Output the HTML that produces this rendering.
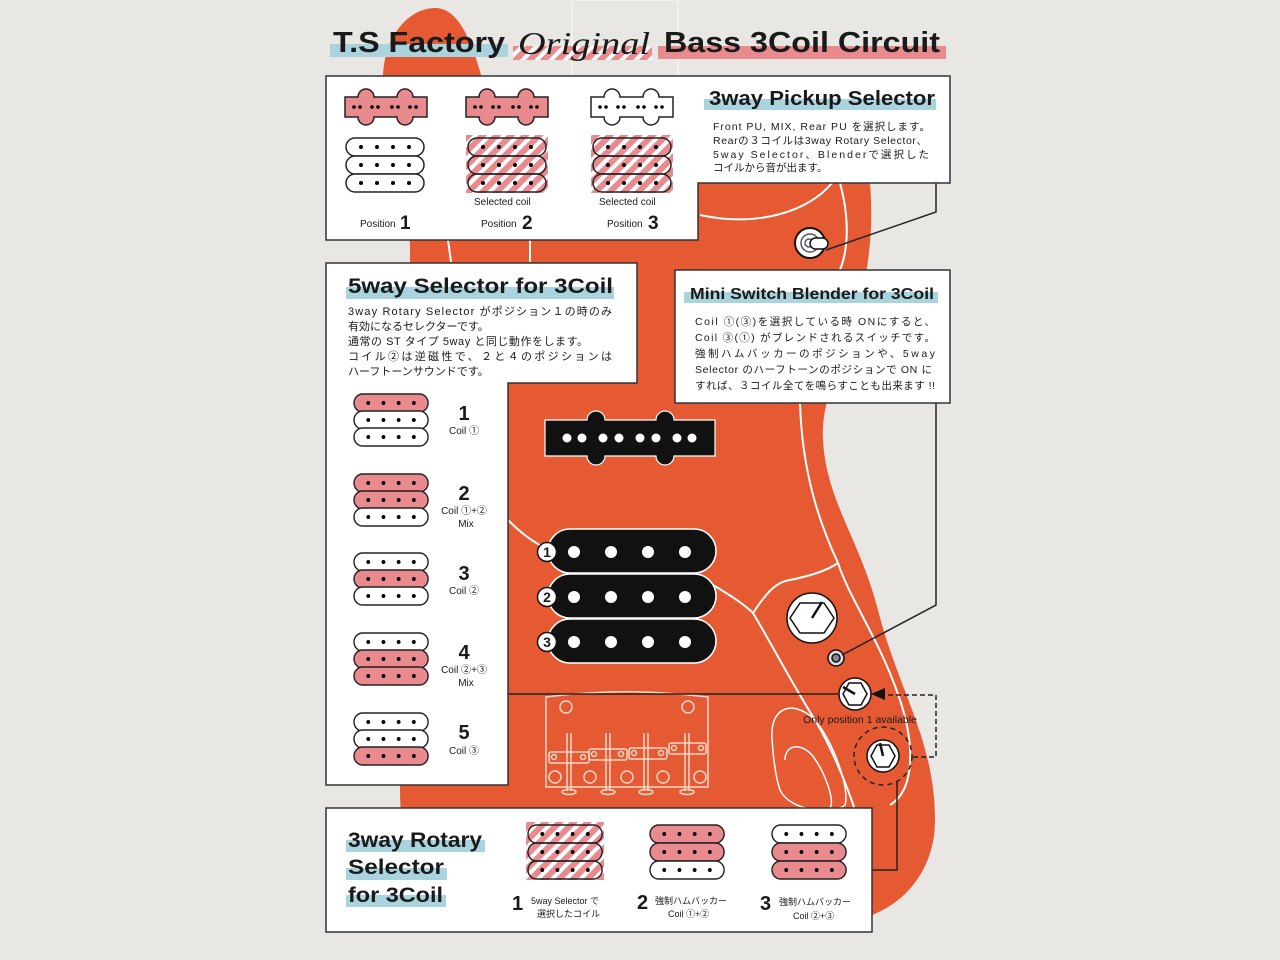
<!DOCTYPE html>
<html><head><meta charset="utf-8"><style>
html,body{margin:0;padding:0;background:#e9e7e3;}
svg{display:block}
text{font-family:"Liberation Sans","Noto Sans CJK JP",sans-serif;fill:#1a1a1a}
.b{font-weight:bold}
</style></head><body>
<svg width="1280" height="960" viewBox="0 0 1280 960" xmlns="http://www.w3.org/2000/svg">
<defs>
<pattern id="h" patternUnits="userSpaceOnUse" width="10" height="10" patternTransform="rotate(45)">
<rect width="10" height="10" fill="#e98a8f"/><rect width="4" height="10" fill="#fff"/>
</pattern>
<g id="dots4"><circle cx="15" cy="9" r="2"/><circle cx="31" cy="9" r="2"/><circle cx="47" cy="9" r="2"/><circle cx="63" cy="9" r="2"/></g>
<g id="cw"><rect x="0" y="0" width="78" height="18" rx="9" fill="#fff" stroke="#222" stroke-width="1.5"/><use href="#dots4"/></g>
<g id="cp"><rect x="0" y="0" width="78" height="18" rx="9" fill="#e98a8f" stroke="#222" stroke-width="1.5"/><use href="#dots4"/></g>
<g id="ch"><rect x="0" y="0" width="78" height="18" rx="9" fill="none" stroke="#222" stroke-width="1.5"/><use href="#dots4"/></g>
<g id="jd"><circle cx="9" cy="10" r="1.8"/><circle cx="15" cy="10" r="1.8"/><circle cx="27" cy="10" r="1.8"/><circle cx="33" cy="10" r="1.8"/><circle cx="47" cy="10" r="1.8"/><circle cx="53" cy="10" r="1.8"/><circle cx="65" cy="10" r="1.8"/><circle cx="71" cy="10" r="1.8"/></g>
<path id="jp" d="M0,0 H13 A8,8 0 0 1 29,0 H52 A8,8 0 0 1 68,0 H82 V20 H68 A8,8 0 0 1 52,20 H29 A8,8 0 0 1 13,20 H0 Z" stroke="#222" stroke-width="1.5"/>
</defs>

<rect x="572" y="0" width="106" height="76" fill="none" stroke="#f4f3f0" stroke-width="1.5"/>

<!-- body -->
<path d="M383,80 C383,35 410,8 435,8 C462,8 475,50 488,100 L700,183 L870,183 C874,230 868,270 860,300 C845,350 820,400 823,440 C826,500 860,540 878,610 C898,690 935,740 935,820 C935,865 910,900 872,915 L872,932 L460,932 C420,900 400,850 400,790 C400,700 410,400 410,250 C410,180 383,120 383,80 Z" fill="#e55a33"/>
<path d="M700,215 C760,228 810,210 832,183" fill="none" stroke="#fff" stroke-width="2"/>
<path d="M840,183 C850,220 848,250 840,270" fill="none" stroke="#fff" stroke-width="2"/>
<path d="M448,240 L451,262 M530,240 L530,262" stroke="#fff" stroke-width="2"/>
<path d="M508,520 C520,532 530,540 545,548" fill="none" stroke="#fff" stroke-width="2"/>
<path d="M713,585 C730,595 745,605 753,613 C775,650 790,680 815,720 C830,745 845,780 855,810" fill="none" stroke="#fff" stroke-width="2"/>
<path d="M753,613 C765,595 775,582 790,580 C810,576 828,570 838,563" fill="none" stroke="#fff" stroke-width="2"/>
<path d="M800,403 C802,470 818,520 838,563 C850,600 880,640 900,700 C915,745 915,790 890,805" fill="none" stroke="#fff" stroke-width="2"/>
<path d="M772,738 C770,705 795,700 815,720 C835,745 850,790 845,805 C835,815 790,812 780,790 C775,775 773,755 772,738 Z" fill="none" stroke="#fff" stroke-width="1.5"/>
<path d="M785,760 C785,745 800,742 812,755 C825,772 835,800 830,808" fill="none" stroke="#fff" stroke-width="1.5"/>

<!-- J pickup -->
<path d="M545,420 H587 A9,9 0 0 1 605,420 H656 A9,9 0 0 1 674,420 H715 V456 H674 A9,9 0 0 1 656,456 H605 A9,9 0 0 1 587,456 H545 Z" fill="#111" stroke="#fff" stroke-width="1.2"/>
<g fill="#fff"><circle cx="567" cy="438" r="4.5"/><circle cx="582" cy="438" r="4.5"/><circle cx="603" cy="438" r="4.5"/><circle cx="619" cy="438" r="4.5"/><circle cx="640" cy="438" r="4.5"/><circle cx="656" cy="438" r="4.5"/><circle cx="677" cy="438" r="4.5"/><circle cx="692" cy="438" r="4.5"/></g>

<g fill="#111" stroke="#fff" stroke-width="1.5">
<rect x="548" y="529" width="168" height="44" rx="22"/>
<rect x="548" y="574" width="168" height="44" rx="22"/>
<rect x="548" y="619" width="168" height="44" rx="22"/>
</g>
<g fill="#fff">
<circle cx="574" cy="552" r="6"/><circle cx="611" cy="552" r="6"/><circle cx="648" cy="552" r="6"/><circle cx="685" cy="552" r="6"/>
<circle cx="574" cy="597" r="6"/><circle cx="611" cy="597" r="6"/><circle cx="648" cy="597" r="6"/><circle cx="685" cy="597" r="6"/>
<circle cx="574" cy="642" r="6"/><circle cx="611" cy="642" r="6"/><circle cx="648" cy="642" r="6"/><circle cx="685" cy="642" r="6"/>
</g>
<g fill="#fff" stroke="#111" stroke-width="1.5"><circle cx="547" cy="552" r="9.5"/><circle cx="547" cy="597" r="9.5"/><circle cx="547" cy="642" r="9.5"/></g>
<g class="b" font-size="14" text-anchor="middle"><text x="547" y="557">1</text><text x="547" y="602">2</text><text x="547" y="647">3</text></g>

<!-- bridge -->
<g fill="none" stroke="#f3d8c8" stroke-width="1.5">
<path d="M546,697 C600,690 650,690 708,697 V787 H546 Z"/>
<circle cx="566" cy="707" r="6"/><circle cx="688" cy="707" r="6"/>
<circle cx="555" cy="777" r="6"/><circle cx="590" cy="777" r="6"/><circle cx="627" cy="777" r="6"/><circle cx="663" cy="777" r="6"/><circle cx="700" cy="777" r="6"/>
<rect x="549" y="752" width="40" height="11" rx="2"/><rect x="589" y="749" width="38" height="11" rx="2"/><rect x="629" y="748" width="38" height="11" rx="2"/><rect x="669" y="743" width="37" height="11" rx="2"/>
<circle cx="554" cy="757" r="2.5"/><circle cx="583" cy="757" r="2.5"/><circle cx="594" cy="754" r="2.5"/><circle cx="621" cy="754" r="2.5"/><circle cx="634" cy="753" r="2.5"/><circle cx="661" cy="753" r="2.5"/><circle cx="674" cy="748" r="2.5"/><circle cx="701" cy="748" r="2.5"/>
<path d="M567,733 V791 M571,733 V791 M606,733 V791 M610,733 V791 M644,733 V791 M648,733 V791 M685,733 V791 M689,733 V791"/>
<ellipse cx="569" cy="792" rx="7" ry="2.5"/><ellipse cx="608" cy="792" rx="7" ry="2.5"/><ellipse cx="646" cy="792" rx="7" ry="2.5"/><ellipse cx="687" cy="792" rx="7" ry="2.5"/>
</g>

<!-- knobs -->
<g stroke="#111" stroke-width="1.5">
<circle cx="812" cy="618" r="25" fill="#fff"/>
<polygon points="800,603 824,603 834,618 824,633 800,633 790,618" fill="none"/>
<line x1="812" y1="618" x2="822" y2="602" stroke-width="2.5"/>
<circle cx="836" cy="658" r="8" fill="#ddd"/><circle cx="836" cy="658" r="4" fill="#889"/>
<circle cx="855" cy="694" r="16" fill="#fff"/>
<polygon points="849,683 861,683 867,694 861,705 849,705 843,694" fill="none"/>
<line x1="855" y1="694" x2="843" y2="687" stroke-width="2.5"/>
<circle cx="883" cy="756" r="16" fill="#fff"/>
<polygon points="877,745 889,745 895,756 889,767 877,767 871,756" fill="none"/>
<line x1="883" y1="756" x2="880" y2="743" stroke-width="2.5"/>
<circle cx="810" cy="243" r="15" fill="#fff" stroke-width="2"/>
<circle cx="810" cy="243" r="9" fill="#fff" stroke="#556"/>
<circle cx="809" cy="243" r="4" fill="#fff" stroke="#556"/>
<rect x="810" y="238" width="18" height="11" rx="5.5" fill="#fff"/>
</g>
<circle cx="883" cy="756" r="29" fill="none" stroke="#222" stroke-width="1.5" stroke-dasharray="5,4"/>

<g fill="none" stroke="#222" stroke-width="1.5">
<path d="M936,168 V212 L826,250"/>
<path d="M936,393 V605 L842,655"/>
<path d="M495,694 H838"/>
<path d="M897,782 V870 H862"/>
</g>
<path d="M913,757 H936 V695 H880" fill="none" stroke="#222" stroke-width="1.5" stroke-dasharray="5,3"/>
<polygon points="871,694 885,688 885,700" fill="#111"/>
<text x="860" y="723" font-size="10.5" text-anchor="middle" fill="#3a1a10">Only position 1 available</text>

<!-- title -->
<rect x="330" y="44" width="178" height="13" fill="#a9d3dd"/>
<rect x="513" y="46" width="139" height="14" fill="url(#h)"/>
<rect x="658" y="46" width="288" height="13" fill="#e98a8f"/>
<text x="333" y="52" class="b" font-size="29" textLength="172" lengthAdjust="spacingAndGlyphs">T.S Factory</text>
<text x="518" y="54" font-size="32" font-style="italic" textLength="132" lengthAdjust="spacingAndGlyphs" style="font-family:'Liberation Serif',serif">Original</text>
<text x="664" y="52" class="b" font-size="29" textLength="276" lengthAdjust="spacingAndGlyphs">Bass 3Coil Circuit</text>

<!-- top panel -->
<path d="M326,76 H950 V183 H698 V240 H326 Z" fill="#fff" stroke="#333" stroke-width="1.5"/>
<use href="#jp" x="345" y="97" fill="#e98a8f"/><use href="#jd" x="345" y="97"/>
<use href="#jp" x="466" y="97" fill="#e98a8f"/><use href="#jd" x="466" y="97"/>
<use href="#jp" x="591" y="97" fill="#fff"/><use href="#jd" x="591" y="97"/>
<use href="#cw" x="346" y="138"/><use href="#cw" x="346" y="156"/><use href="#cw" x="346" y="174"/>
<rect x="466" y="135" width="82" height="58" fill="url(#h)"/>
<use href="#ch" x="468" y="138"/><use href="#ch" x="468" y="156"/><use href="#ch" x="468" y="174"/>
<rect x="591" y="135" width="82" height="58" fill="url(#h)"/>
<use href="#ch" x="593" y="138"/><use href="#ch" x="593" y="156"/><use href="#ch" x="593" y="174"/>
<g font-size="10"><text x="474" y="205">Selected coil</text><text x="599" y="205">Selected coil</text>
<text x="360" y="227">Position</text><text x="481" y="227">Position</text><text x="607" y="227">Position</text></g>
<g class="b" font-size="19"><text x="400" y="229">1</text><text x="522" y="229">2</text><text x="648" y="229">3</text></g>
<rect x="704" y="99" width="232" height="11" fill="#a9d3dd"/>
<text x="709" y="105" class="b" font-size="20" textLength="226" lengthAdjust="spacingAndGlyphs">3way Pickup Selector</text>
<g font-size="10.5"><text x="713" y="130" textLength="217">Front PU, MIX, Rear PU を選択します。</text>
<text x="713" y="144" textLength="214">Rearの３コイルは3way Rotary Selector、</text>
<text x="713" y="158" textLength="216">5way Selector、Blenderで選択した</text>
<text x="713" y="171">コイルから音が出ます。</text></g>

<!-- 5way panel -->
<path d="M326,263 H637 V383 H508 V785 H326 Z" fill="#fff" stroke="#333" stroke-width="1.5"/>
<rect x="346" y="287" width="268" height="12" fill="#a9d3dd"/>
<text x="348" y="293" class="b" font-size="21" textLength="265" lengthAdjust="spacingAndGlyphs">5way Selector for 3Coil</text>
<g font-size="11"><text x="348" y="315" textLength="264">3way Rotary Selector がポジション１の時のみ</text>
<text x="348" y="330">有効になるセレクターです。</text>
<text x="348" y="345" textLength="240">通常の ST タイプ 5way と同じ動作をします。</text>
<text x="348" y="360" textLength="264">コイル②は逆磁性で、２と４のポジションは</text>
<text x="348" y="375">ハーフトーンサウンドです。</text></g>
<g transform="translate(354,0) scale(0.95,1)">
<use href="#cp" y="394"/><use href="#cw" y="411"/><use href="#cw" y="428"/>
<use href="#cp" y="474"/><use href="#cp" y="491"/><use href="#cw" y="508"/>
<use href="#cw" y="553"/><use href="#cp" y="570"/><use href="#cw" y="587"/>
<use href="#cw" y="633"/><use href="#cp" y="650"/><use href="#cp" y="667"/>
<use href="#cw" y="713"/><use href="#cw" y="730"/><use href="#cp" y="747"/>
</g>
<g class="b" font-size="20" text-anchor="middle"><text x="464" y="420">1</text><text x="464" y="500">2</text><text x="464" y="580">3</text><text x="464" y="659">4</text><text x="464" y="739">5</text></g>
<g font-size="10" text-anchor="middle"><text x="464" y="434">Coil ①</text><text x="464" y="514">Coil ①+②</text><text x="466" y="527">Mix</text><text x="464" y="594">Coil ②</text><text x="464" y="673">Coil ②+③</text><text x="466" y="686">Mix</text><text x="464" y="754">Coil ③</text></g>

<!-- mini switch panel -->
<rect x="675" y="270" width="275" height="133" fill="#fff" stroke="#333" stroke-width="1.5"/>
<rect x="684" y="292" width="254" height="11" fill="#a9d3dd"/>
<text x="690" y="299" class="b" font-size="16" textLength="244" lengthAdjust="spacingAndGlyphs">Mini Switch Blender for 3Coil</text>
<g font-size="10.5"><text x="695" y="325" textLength="240">Coil ①(③)を選択している時 ONにすると、</text>
<text x="695" y="341" textLength="240">Coil ③(①) がブレンドされるスイッチです。</text>
<text x="695" y="357" textLength="240">強制ハムバッカーのポジションや、5way</text>
<text x="695" y="373" textLength="237">Selector のハーフトーンのポジションで ON に</text>
<text x="695" y="389" textLength="240">すれば、３コイル全てを鳴らすことも出来ます !!</text></g>

<!-- bottom panel -->
<rect x="326" y="808" width="546" height="124" fill="#fff" stroke="#333" stroke-width="1.5"/>
<rect x="346" y="840" width="139" height="12" fill="#a9d3dd"/>
<rect x="346" y="868" width="101" height="12" fill="#a9d3dd"/>
<rect x="346" y="895" width="100" height="12" fill="#a9d3dd"/>
<g class="b" font-size="21"><text x="348" y="847" textLength="134" lengthAdjust="spacingAndGlyphs">3way Rotary</text><text x="348" y="874" textLength="96" lengthAdjust="spacingAndGlyphs">Selector</text><text x="348" y="902" textLength="95" lengthAdjust="spacingAndGlyphs">for 3Coil</text></g>
<rect x="526" y="822" width="78" height="58" fill="url(#h)"/>
<g transform="translate(528,0) scale(0.95,1)"><use href="#ch" y="825"/><use href="#ch" y="843"/><use href="#ch" y="861"/></g>
<g transform="translate(650,0) scale(0.95,1)"><use href="#cp" y="825"/><use href="#cp" y="843"/><use href="#cw" y="861"/></g>
<g transform="translate(772,0) scale(0.95,1)"><use href="#cw" y="825"/><use href="#cp" y="843"/><use href="#cp" y="861"/></g>
<g class="b" font-size="20"><text x="512" y="910">1</text><text x="637" y="909">2</text><text x="760" y="910">3</text></g>
<g font-size="9"><text x="531" y="904">5way Selector で</text><text x="537" y="917">選択したコイル</text>
<text x="655" y="904">強制ハムバッカー</text><text x="668" y="917">Coil ①+②</text>
<text x="779" y="905">強制ハムバッカー</text><text x="793" y="919">Coil ②+③</text></g>
</svg>
</body></html>
